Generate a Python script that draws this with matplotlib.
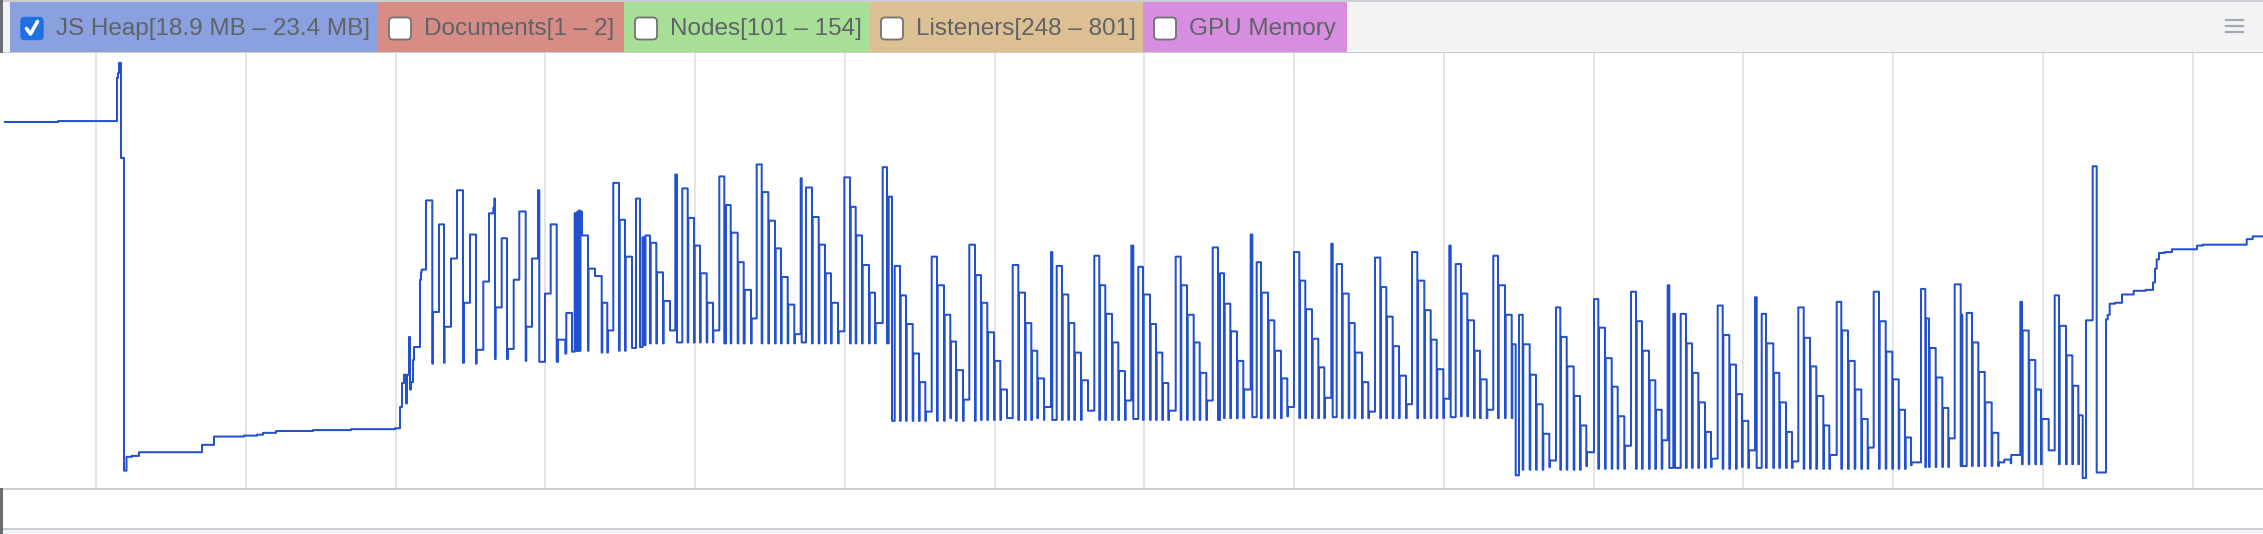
import matplotlib.pyplot as plt
from matplotlib.patches import Rectangle, FancyBboxPatch

W, H = 2263, 534

# counters shown in the legend strip
counters = ["JS Heap[18.9 MB – 23.4 MB]", "Documents[1 – 2]", "Nodes[101 – 154]",
            "Listeners[248 – 801]", "GPU Memory"]
counter_colors = ["#8aa0df", "#d88c86", "#a8df96", "#dcc094", "#d88ee0"]
counter_checked = [True, False, False, False, False]

# JS heap samples: (time, MB), drawn as a step line
heap_idle = [(5, 22.76), (58, 22.77), (117, 23.24), (118, 23.29), (119, 23.40), (121, 22.37),
             (124, 18.98), (126.5, 19.13), (132, 19.14), (139, 19.18), (202, 19.26), (214, 19.35),
             (244, 19.36), (257, 19.37), (263, 19.39), (276, 19.41), (313, 19.42), (351, 19.43),
             (395, 19.44)]

heap_ramp = [(400, 19.67), (402, 19.93), (404, 20.02), (406, 19.71), (407, 20.02), (409, 20.43),
             (410, 19.86), (411, 19.94), (413, 20.18), (414, 20.32), (420, 21.05), (421, 21.13),
             (421.7, 21.16), (426, 21.91), (432.3, 20.14), (432.9, 20.70), (439, 21.65), (444, 20.15),
             (444.6, 20.54), (451, 21.28), (457, 22.02), (463, 20.15), (464, 20.80), (470, 21.54),
             (476, 20.14), (476.7, 20.29), (483.3, 21.03), (489, 21.77), (493.3, 21.83), (494.3, 21.93),
             (495, 20.19), (495.7, 20.75), (501.7, 21.50), (507, 20.19), (508, 20.30), (513.7, 21.05),
             (519.3, 21.79), (525.7, 20.17), (526.3, 20.54), (532, 21.28), (538, 22.02), (539.3, 20.16),
             (545, 20.90), (550.7, 21.65), (556.7, 20.16), (558, 20.40), (565.3, 20.25), (566.3, 20.69),
             (572, 20.27), (574.7, 21.77), (575.7, 20.28), (576.3, 21.77), (577, 20.28), (577.5, 21.79),
             (578.5, 20.28), (579, 21.80), (580, 20.28), (580.5, 21.79), (582, 21.53), (588, 20.28),
             (588.5, 21.17), (595, 21.09), (601.7, 20.26), (602.3, 20.80), (607.3, 20.26), (608, 20.50),
             (613.3, 22.10), (619, 20.28), (619.7, 21.70), (625, 20.28), (625.7, 21.30), (632, 20.31),
             (636, 21.93), (640, 20.32), (642.5, 21.51), (644.5, 20.34), (645.5, 21.53), (650, 20.36),
             (650.7, 21.45), (656.3, 20.36), (657, 21.13), (663, 20.36), (663.7, 20.82), (670, 20.50),
             (675.3, 22.19), (677, 20.37), (682.3, 22.04), (687.7, 20.37), (688.3, 21.72), (694, 20.37),
             (694.7, 21.42), (700, 20.37), (700.7, 21.12), (706.7, 20.37), (707.3, 20.80), (713, 20.37),
             (713.3, 20.50)]

heap_high = [(719.3, 22.17), (724.3, 20.36), (726, 21.86), (730.7, 20.36), (731.3, 21.56), (737.7, 20.36),
             (738.3, 21.24), (743.7, 20.36), (744.7, 20.94), (751, 20.36), (751.7, 20.63), (756.7, 22.30),
             (761.7, 20.36), (762.3, 22.00), (768.3, 20.36), (769, 21.69), (775, 20.36), (775.7, 21.39),
             (781, 20.36), (781.7, 21.08), (787.7, 20.36), (788.3, 20.78), (794.3, 20.36), (795, 20.46),
             (800.7, 22.15), (801.7, 20.37), (806, 22.05), (812, 20.36), (812.7, 21.73), (818.7, 20.36),
             (819.3, 21.43), (825, 20.36), (825.7, 21.12), (831, 20.36), (831.7, 20.80), (838, 20.36),
             (838.7, 20.49), (844.3, 22.16), (850, 20.36), (850.7, 21.84), (855.7, 20.36), (856.3, 21.53),
             (862, 20.36), (862.7, 21.21), (869, 20.36), (869.7, 20.91), (875, 20.36), (875.7, 20.58),
             (882.7, 22.27), (887, 20.36), (888.7, 21.95)]

heap_mid = [(892, 19.52), (894.7, 21.20), (900, 19.52), (900.7, 20.88), (906, 19.52), (906.7, 20.57),
            (912.7, 19.52), (913.3, 20.25), (919, 19.52), (919.7, 19.94), (925.3, 19.52), (926, 19.62),
            (931.7, 21.30), (937, 19.52), (937.7, 20.99), (944, 19.52), (944.7, 20.67), (950.3, 19.55),
            (951, 20.38), (956, 19.52), (956.7, 20.07), (963, 19.52), (963.7, 19.75), (969.3, 21.43),
            (975, 19.52), (975.7, 21.10), (981, 19.53), (981.7, 20.80), (987.3, 19.53), (988, 20.48),
            (994, 19.53), (994.7, 20.17), (1000.3, 19.53), (1001, 19.86), (1007, 19.55), (1012.7, 21.21),
            (1018.3, 19.53), (1019, 20.91), (1025, 19.53), (1025.7, 20.58), (1031.3, 19.53), (1032, 20.28),
            (1037.3, 19.55), (1038, 19.98), (1044, 19.53), (1044.3, 19.67), (1051, 21.35), (1052.3, 19.53),
            (1056.7, 21.20), (1062, 19.53), (1062.7, 20.89), (1068.3, 19.53), (1069, 20.58), (1074.3, 19.53),
            (1075, 20.26), (1081, 19.53), (1081.7, 19.96), (1088, 19.63), (1094.3, 21.31), (1099.3, 19.53),
            (1100, 20.99), (1105.3, 19.53), (1106, 20.68), (1112, 19.53), (1112.7, 20.37), (1118.3, 19.53),
            (1119, 20.06), (1125, 19.53), (1125.7, 19.74), (1131.3, 21.42), (1133.3, 19.54), (1138.3, 21.19),
            (1143, 19.53), (1143.7, 20.89), (1150, 19.53), (1150.7, 20.57), (1156, 19.53), (1156.7, 20.26),
            (1162.3, 19.53), (1163, 19.93), (1168.3, 19.53), (1169, 19.63), (1175.7, 21.30), (1180.7, 19.53),
            (1181.3, 20.99), (1187, 19.53), (1187.7, 20.67), (1193.7, 19.53), (1194.3, 20.37), (1199.7, 19.53),
            (1200.3, 20.04), (1206.3, 19.53), (1207, 19.74), (1212.7, 21.40), (1218, 19.53), (1220, 21.12),
            (1224, 19.55), (1224.7, 20.79), (1230.3, 19.55), (1231, 20.49), (1237, 19.55), (1237.7, 20.17),
            (1243.3, 19.55), (1244, 19.86), (1250.7, 21.54), (1252.3, 19.56), (1256.7, 21.24), (1261, 19.55),
            (1261.7, 20.91), (1268, 19.55), (1268.7, 20.61), (1274.3, 19.55), (1275, 20.28), (1281, 19.55),
            (1281.7, 19.98), (1287.3, 19.57), (1288, 19.67), (1294, 21.35), (1299.3, 19.55), (1300, 21.04),
            (1305.3, 19.55), (1306, 20.73), (1312, 19.55), (1312.7, 20.41), (1318.3, 19.55), (1319, 20.10),
            (1324.3, 19.55), (1325, 19.77), (1331.3, 21.44), (1332.7, 19.56), (1336.7, 21.22), (1342, 19.55),
            (1342.7, 20.90), (1348.7, 19.55), (1349.3, 20.58), (1354.7, 19.55), (1355.3, 20.26), (1362, 19.55),
            (1362.7, 19.94), (1368.3, 19.55), (1369, 19.62), (1375, 21.29), (1380.3, 19.55), (1381, 20.97),
            (1386.3, 19.55), (1387, 20.65), (1392.7, 19.55), (1393.3, 20.33), (1399, 19.55), (1399.7, 20.01),
            (1406, 19.55), (1406.7, 19.70), (1412, 21.35), (1417.3, 19.55), (1418, 21.04), (1424.3, 19.55),
            (1425, 20.72), (1430.7, 19.55), (1431.3, 20.40), (1436.7, 19.55), (1437.3, 20.08), (1443.3, 19.55),
            (1444, 19.76), (1449.3, 21.42), (1450.7, 19.56), (1455.7, 21.22), (1461, 19.57), (1461.7, 20.90),
            (1467.3, 19.57), (1468, 20.61), (1474, 19.55), (1474.7, 20.28), (1480, 19.55), (1480.7, 19.97),
            (1486.7, 19.55), (1487.3, 19.64), (1493.3, 21.31), (1498, 19.55), (1498.7, 20.99), (1505, 19.55),
            (1505.7, 20.67), (1511.7, 19.55), (1512.3, 20.35)]

heap_low = [(1515.7, 18.93), (1519, 20.67), (1522.7, 18.99), (1523.3, 20.35), (1529.7, 18.99), (1530.3, 20.02),
            (1536, 18.99), (1536.7, 19.70), (1542.7, 18.99), (1543.3, 19.38), (1549.3, 19.02), (1550, 19.09),
            (1556, 20.75), (1560.3, 18.99), (1561, 20.43), (1566.7, 18.99), (1567.3, 20.11), (1573.7, 18.99),
            (1574.3, 19.79), (1580, 18.99), (1580.7, 19.47), (1586.3, 19.03), (1587, 19.18), (1594, 20.84),
            (1598.3, 19.00), (1599, 20.53), (1605, 19.00), (1605.7, 20.20), (1611.7, 19.00), (1612.3, 19.89),
            (1617.7, 19.00), (1618.3, 19.57), (1624.3, 19.00), (1625, 19.25), (1631, 20.92), (1636, 19.00),
            (1636.7, 20.60), (1642, 19.00), (1642.7, 20.28), (1649, 19.00), (1649.7, 19.96), (1655.3, 19.00),
            (1656, 19.64), (1661.7, 19.00), (1662.3, 19.31), (1667.7, 20.99), (1669.3, 19.01), (1673.3, 20.68),
            (1675, 19.01), (1680.7, 20.68), (1686, 19.01), (1686.7, 20.36), (1692, 19.01), (1692.7, 20.04),
            (1698.3, 19.01), (1699, 19.72), (1705, 19.01), (1705.7, 19.40), (1711, 19.02), (1711.7, 19.11),
            (1717.7, 20.77), (1722.7, 19.00), (1723.3, 20.45), (1729.3, 19.00), (1730, 20.13), (1736, 19.00),
            (1736.7, 19.81), (1742, 19.02), (1742.7, 19.52), (1748.3, 19.01), (1749, 19.20), (1755, 20.86),
            (1756.7, 19.01), (1761.7, 20.68), (1766, 19.01), (1766.7, 20.36), (1773.3, 19.01), (1774, 20.04),
            (1779.3, 19.01), (1780, 19.72), (1786, 19.01), (1786.7, 19.40), (1792, 19.01), (1792.7, 19.08),
            (1798.3, 20.75), (1803.7, 19.00), (1804.3, 20.42), (1810, 19.00), (1810.7, 20.11), (1816.3, 19.00),
            (1817, 19.79), (1823.3, 19.00), (1824, 19.47), (1829.3, 19.00), (1830, 19.15), (1836.7, 20.81),
            (1841.3, 19.00), (1842, 20.50), (1848, 19.00), (1848.7, 20.17), (1854.7, 19.00), (1855.3, 19.86),
            (1861.3, 19.00), (1862, 19.54), (1867.7, 19.00), (1868.3, 19.23), (1873.7, 20.92), (1879, 19.00),
            (1879.7, 20.60), (1885.7, 19.00), (1886.3, 20.27), (1892.3, 19.00), (1893, 19.97), (1898.7, 19.00),
            (1899.3, 19.64), (1905, 19.00), (1905.7, 19.34), (1911, 19.04), (1911.7, 19.07), (1921, 20.95),
            (1925.3, 19.02), (1926, 20.63), (1929, 19.02), (1929.7, 20.31), (1935.7, 19.02), (1936.3, 19.99),
            (1942.3, 19.02), (1943, 19.66), (1948.3, 19.02), (1949, 19.33), (1954.7, 21.00), (1960.7, 19.03),
            (1961.3, 20.67), (1962.3, 19.03), (1966.7, 20.69), (1972, 19.03), (1972.7, 20.37), (1978.3, 19.03),
            (1979, 20.05), (1984.7, 19.03), (1985.3, 19.72), (1991.7, 19.03), (1992.3, 19.39), (1998.3, 19.03),
            (1998.7, 19.07), (2004.3, 19.10), (2010.7, 19.06), (2011.2, 19.15), (2020.3, 20.81), (2022, 19.05),
            (2022.7, 20.50), (2028.7, 19.05), (2029.3, 20.18), (2035.3, 19.05), (2036, 19.86), (2041, 19.05),
            (2041.7, 19.54), (2048.7, 19.20), (2054.7, 20.88), (2059, 19.05), (2059.7, 20.55), (2066, 19.05),
            (2066.7, 20.23), (2072.3, 19.05), (2073, 19.90), (2078.3, 19.05), (2079, 19.58), (2082.7, 18.90)]

heap_tail = [(2086, 20.61), (2092.7, 22.28), (2096.7, 18.96), (2106, 20.62), (2107.7, 20.67), (2109.7, 20.79),
             (2115, 20.80), (2122, 20.89), (2133.7, 20.93), (2145.7, 20.94), (2153, 21.02), (2155, 21.17),
             (2156.7, 21.27), (2159, 21.34), (2164.7, 21.35), (2172, 21.38), (2197, 21.42), (2202.7, 21.43),
             (2246.7, 21.49), (2252.7, 21.52), (2263, 21.52)]

heap = heap_idle + heap_ramp + heap_high + heap_mid + heap_low + heap_tail
heap_t = [p[0] for p in heap]
heap_mb = [p[1] for p in heap]

plt.rcParams['font.family'] = ['Liberation Sans', 'DejaVu Sans']

fig = plt.figure(figsize=(W / 100, H / 100), dpi=100)
fig.patch.set_facecolor('white')

# frame / chrome layer in pixel units
bg = fig.add_axes([0, 0, 1, 1], zorder=0)
bg.set_xlim(0, W)
bg.set_ylim(H, 0)
bg.axis('off')

bg.add_patch(Rectangle((0, 0), W, 53, color='#f1f3f4', lw=0))
bg.add_patch(Rectangle((0, 0), W, 2, color='#cbcdd1', lw=0))
bg.add_patch(Rectangle((0, 51.5), W, 1.8, color='#cbcdd1', lw=0))
bg.add_patch(Rectangle((0, 488), W, 2, color='#cbcdd1', lw=0))
bg.add_patch(Rectangle((0, 528), W, 2, color='#cbcdd1', lw=0))
bg.add_patch(Rectangle((0, 530), W, 4, color='#f1f3f4', lw=0))

# left edge strip (neighbouring panel)
for y0, y1 in [(0, 353), (360, 366), (385, 447), (455, 459), (467, 534)]:
    bg.add_patch(Rectangle((0, y0), 2.5, y1 - y0, color='#6a6d72', lw=0))

edges = [10, 378, 624, 870, 1143, 1347]
for i, (name, col, chk) in enumerate(zip(counters, counter_colors, counter_checked)):
    x0, x1 = edges[i], edges[i + 1]
    bg.add_patch(Rectangle((x0, 2), x1 - x0, 50, color=col, lw=0))
    bx = x0 + 11
    if chk:
        bg.add_patch(FancyBboxPatch((bx, 17.5), 22, 22, boxstyle="round,pad=0,rounding_size=3.5",
                                    fc='#1f6fe5', ec='#1f6fe5', lw=1))
        bg.plot([bx + 5.5, bx + 9.5, bx + 16.5], [28.5, 34, 21.5], color='white', lw=2.6,
                solid_capstyle='round', solid_joinstyle='round')
    else:
        bg.add_patch(FancyBboxPatch((bx, 17.5), 22, 22, boxstyle="round,pad=0,rounding_size=4",
                                    fc='white', ec='#727272', lw=1.3))
    bg.text(bx + 35, 29, name, fontsize=17.5, color='#5f6368', va='center', ha='left')

# menu icon
for yy in [20, 26, 32]:
    bg.plot([2226, 2243], [yy, yy], color='#a5a8ad', lw=1.6)

# heap graph
ax = fig.add_axes([0, (H - 488) / H, 1, (488 - 53) / H], zorder=1)
ax.set_facecolor('white')
ax.set_xlim(0, W)
ax.set_ylim(18.792, 23.508)
for s in ax.spines.values():
    s.set_visible(False)
ax.set_xticks([96 + 149.77 * k for k in range(15)])
ax.set_yticks([])
ax.tick_params(length=0, labelbottom=False)
ax.grid(axis='x', color='#e2e2e2', lw=1.3)
ax.set_axisbelow(True)
ax.plot(heap_t, heap_mb, drawstyle='steps-post', color='#2350cd', lw=1.45)

fig.savefig('out.png', dpi=100)
